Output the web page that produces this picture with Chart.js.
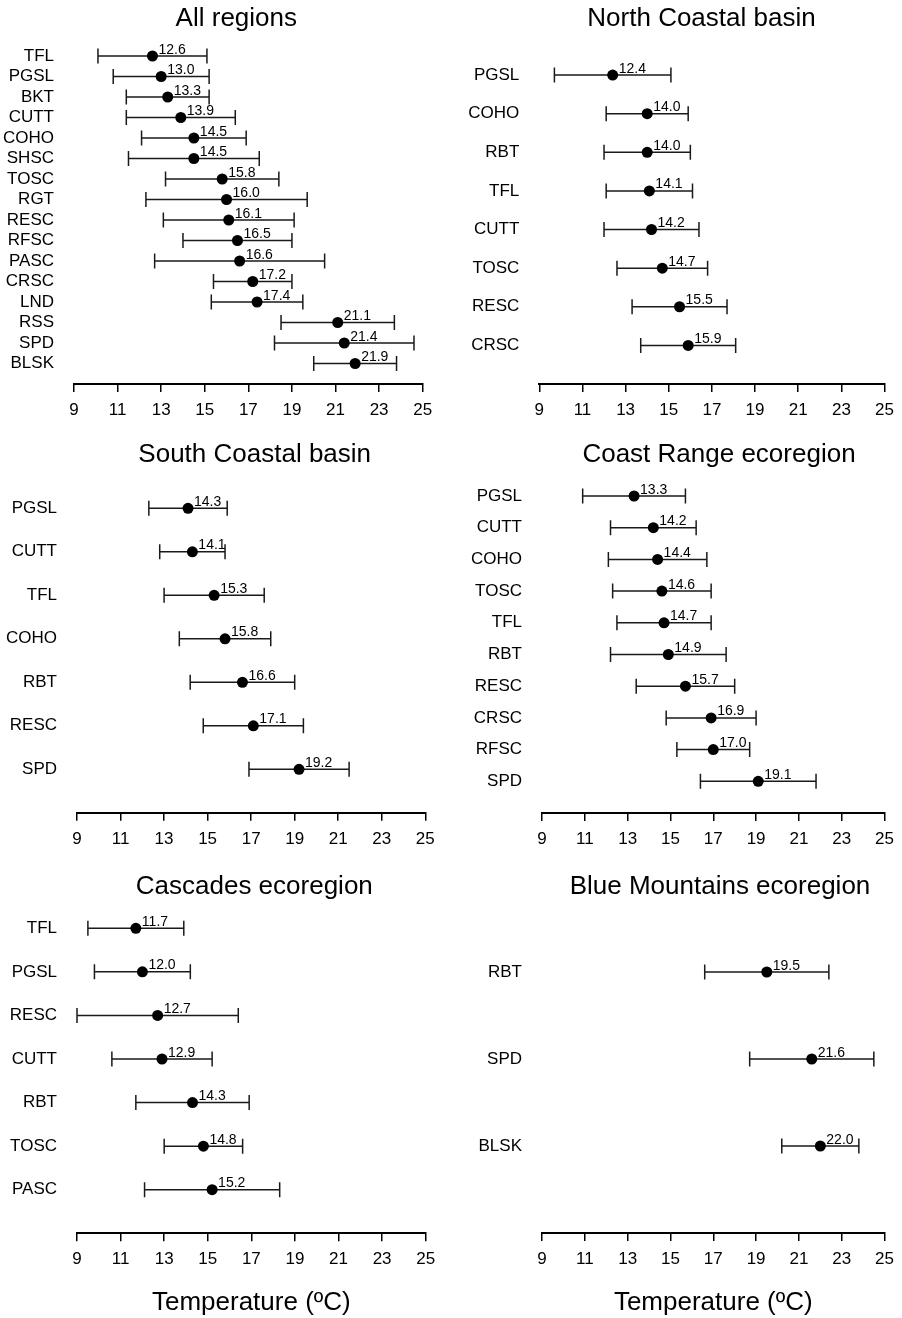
<!DOCTYPE html>
<html>
<head>
<meta charset="utf-8">
<script src="https://cdn.jsdelivr.net/npm/chart.js@4"></script>
<style>
  html, body { margin: 0; padding: 0; background: #fff; }
  #page { position: relative; width: 902px; height: 1318px; overflow: hidden; background: #fff; }
  #page canvas { position: absolute; }
</style>
</head>
<body>
<div id="page"></div>
<script>
// ---- data (mean temperature and interval per species) ----
const allNames = ['TFL', 'PGSL', 'BKT', 'CUTT', 'COHO', 'SHSC', 'TOSC', 'RGT', 'RESC', 'RFSC', 'PASC', 'CRSC', 'LND', 'RSS', 'SPD', 'BLSK'];
const allMeans = [12.6, 13.0, 13.3, 13.9, 14.5, 14.5, 15.8, 16.0, 16.1, 16.5, 16.6, 17.2, 17.4, 21.1, 21.4, 21.9];
const allLow   = [10.1, 10.8, 11.4, 11.4, 12.1, 11.5, 13.2, 12.3, 13.1, 14.0, 12.7, 15.4, 15.3, 18.5, 18.2, 20.0];
const allHigh  = [15.1, 15.2, 15.2, 16.4, 16.9, 17.5, 18.4, 19.7, 19.1, 19.0, 20.5, 19.0, 19.5, 23.7, 24.6, 23.8];

const northNames = ['PGSL', 'COHO', 'RBT', 'TFL', 'CUTT', 'TOSC', 'RESC', 'CRSC'];
const northMeans = [12.4, 14.0, 14.0, 14.1, 14.2, 14.7, 15.5, 15.9];
const northLow   = [9.7, 12.1, 12.0, 12.1, 12.0, 12.6, 13.3, 13.7];
const northHigh  = [15.1, 15.9, 16.0, 16.1, 16.4, 16.8, 17.7, 18.1];

const southNames = ['PGSL', 'CUTT', 'TFL', 'COHO', 'RBT', 'RESC', 'SPD'];
const southMeans = [14.1, 14.3, 15.3, 15.8, 16.6, 17.1, 19.2];
const southText  = ['14.3', '14.1', '15.3', '15.8', '16.6', '17.1', '19.2']; // printed values (first two differ from dots)
const southLow   = [12.3, 12.8, 13.0, 13.7, 14.2, 14.8, 16.9];
const southHigh  = [15.9, 15.8, 17.6, 17.9, 19.0, 19.4, 21.5];

const coastNames = ['PGSL', 'CUTT', 'COHO', 'TOSC', 'TFL', 'RBT', 'RESC', 'CRSC', 'RFSC', 'SPD'];
const coastMeans = [13.3, 14.2, 14.4, 14.6, 14.7, 14.9, 15.7, 16.9, 17.0, 19.1];
const coastLow   = [10.9, 12.2, 12.1, 12.3, 12.5, 12.2, 13.4, 14.8, 15.3, 16.4];
const coastHigh  = [15.7, 16.2, 16.7, 16.9, 16.9, 17.6, 18.0, 19.0, 18.7, 21.8];

const cascNames = ['TFL', 'PGSL', 'RESC', 'CUTT', 'RBT', 'TOSC', 'PASC'];
const cascMeans = [11.7, 12.0, 12.7, 12.9, 14.3, 14.8, 15.2];
const cascLow   = [9.5, 9.8, 9.0, 10.6, 11.7, 13.0, 12.1];
const cascHigh  = [13.9, 14.2, 16.4, 15.2, 16.9, 16.6, 18.3];

const blueNames = ['RBT', 'SPD', 'BLSK'];
const blueMeans = [19.5, 21.6, 22.0];
const blueLow   = [16.6, 18.7, 20.2];
const blueHigh  = [22.4, 24.5, 23.8];

const tempTicks = [9, 11, 13, 15, 17, 19, 21, 23, 25];
const xTitle = 'Temperature (ºC)';

const panels = [
  { title: 'All regions', names: allNames, means: allMeans, low: allLow, high: allHigh },
  { title: 'North Coastal basin', names: northNames, means: northMeans, low: northLow, high: northHigh },
  { title: 'South Coastal basin', names: southNames, means: southMeans, low: southLow, high: southHigh, text: southText },
  { title: 'Coast Range ecoregion', names: coastNames, means: coastMeans, low: coastLow, high: coastHigh },
  { title: 'Cascades ecoregion', names: cascNames, means: cascMeans, low: cascLow, high: cascHigh, axisTitle: true },
  { title: 'Blue Mountains ecoregion', names: blueNames, means: blueMeans, low: blueLow, high: blueHigh, axisTitle: true },
];

// ---- layout: canvas box, plot area and title centre per panel, page pixels ----
const boxes = [
  { x: 0,   y: 0,   w: 451, h: 420, L: 74,    R: 422.7, T: 35.5,  B: 384,    titleX: 236.3, titleY: 17.5 },
  { x: 451, y: 0,   w: 451, h: 420, L: 539.3, R: 888,   T: 36.4,  B: 384,    titleX: 701.5, titleY: 17.5 },
  { x: 0,   y: 420, w: 451, h: 440, L: 77,    R: 425.3, T: 464.8, B: 812.8,  titleX: 254.7, titleY: 453.5 },
  { x: 451, y: 420, w: 451, h: 440, L: 542,   R: 890.7, T: 464.3, B: 813,    titleX: 719,   titleY: 453.5 },
  { x: 0,   y: 860, w: 451, h: 458, L: 77,    R: 425.7, T: 884.7, B: 1233.3, titleX: 254.3, titleY: 885.5 },
  { x: 451, y: 860, w: 451, h: 458, L: 542,   R: 891,   T: 885,   B: 1233,   titleX: 720,   titleY: 885.5 },
];

const FONT = '"Liberation Sans", Arial, Helvetica, sans-serif';
Chart.defaults.font.family = FONT;
Chart.defaults.color = '#000';

const TITLE_SIZE = 26;

// interval lines with end caps, the printed mean next to each dot, and the panel title
const errorBars = {
  id: 'errorBars',
  beforeDatasetsDraw(chart, args, opts) {
    const { ctx, scales: { x, y } } = chart;
    const n = opts.low.length;
    ctx.save();
    ctx.strokeStyle = '#1a1a1a';
    ctx.lineWidth = 1.5;
    opts.low.forEach((lo, i) => {
      const py = y.getPixelForValue(n - i);
      const x0 = x.getPixelForValue(lo);
      const x1 = x.getPixelForValue(opts.high[i]);
      ctx.beginPath();
      ctx.moveTo(x0, py); ctx.lineTo(x1, py);
      ctx.moveTo(x0, py - 7.5); ctx.lineTo(x0, py + 7.5);
      ctx.moveTo(x1, py - 7.5); ctx.lineTo(x1, py + 7.5);
      ctx.stroke();
    });
    ctx.restore();
  },
  afterDatasetsDraw(chart, args, opts) {
    const { ctx } = chart;
    const meta = chart.getDatasetMeta(0);
    ctx.save();
    ctx.font = '14px ' + FONT;
    ctx.fillStyle = '#000';
    ctx.textAlign = 'left';
    ctx.textBaseline = 'alphabetic';
    meta.data.forEach((pt, i) => ctx.fillText(opts.text[i], pt.x + 6, pt.y - 2.5));
    ctx.restore();
  },
  afterDraw(chart, args, opts) {
    const { ctx } = chart;
    ctx.save();
    ctx.font = TITLE_SIZE + 'px ' + FONT;
    ctx.fillStyle = '#000';
    ctx.textAlign = 'center';
    ctx.textBaseline = 'middle';
    ctx.fillText(opts.title, opts.titleX, opts.titleY);
    ctx.restore();
  }
};

const page = document.getElementById('page');

panels.forEach((p, k) => {
  const b = boxes[k];
  const n = p.names.length;
  const canvas = document.createElement('canvas');
  canvas.width = b.w;
  canvas.height = b.h;
  canvas.style.left = b.x + 'px';
  canvas.style.top = b.y + 'px';
  page.appendChild(canvas);

  new Chart(canvas, {
    type: 'scatter',
    data: {
      datasets: [{
        data: p.means.map((m, i) => ({ x: m, y: n - i })),
        pointRadius: 5.5,
        pointHoverRadius: 5.5,
        pointBackgroundColor: '#000',
        pointBorderWidth: 0,
      }]
    },
    options: {
      responsive: false,
      animation: false,
      events: [],
      layout: { padding: { left: 0, top: b.T - b.y, bottom: 0, right: b.x + b.w - b.R } },
      scales: {
        x: {
          type: 'linear',
          min: 9,
          max: 25,
          afterBuildTicks: s => { s.ticks = tempTicks.map(v => ({ value: v })); },
          afterFit: s => { s.height = b.y + b.h - b.B; },
          grid: { display: true, drawOnChartArea: false, drawTicks: true, tickLength: 8, color: '#000', lineWidth: 1.5 },
          border: { display: true, color: '#000', width: 2 },
          ticks: { font: { size: 17 }, color: '#000', padding: 8, maxRotation: 0, autoSkip: false },
          title: {
            display: !!p.axisTitle,
            text: xTitle,
            color: '#000',
            font: { size: TITLE_SIZE, lineHeight: 1.2 },
            padding: { top: 0, bottom: 0 }
          }
        },
        y: {
          type: 'linear',
          min: 0,
          max: n + 1,
          afterBuildTicks: s => { s.ticks = p.names.map((_, i) => ({ value: n - i })); },
          afterFit: s => { s.width = b.L - b.x; },
          // invisible tick marks give the 20px gap between names and plot
          grid: { display: false, drawTicks: true, tickLength: 20, color: 'rgba(0,0,0,0)' },
          border: { display: false },
          ticks: {
            autoSkip: false,
            padding: 0,
            font: { size: 17 },
            color: '#000',
            callback: v => p.names[n - v] ?? ''
          }
        }
      },
      plugins: {
        legend: { display: false },
        tooltip: { enabled: false },
        title: { display: false },
        errorBars: {
          low: p.low,
          high: p.high,
          text: p.text || p.means.map(v => v.toFixed(1)),
          title: p.title,
          titleX: b.titleX - b.x,
          titleY: b.titleY - b.y + 1
        }
      }
    },
    plugins: [errorBars]
  });
});
</script>
</body>
</html>
